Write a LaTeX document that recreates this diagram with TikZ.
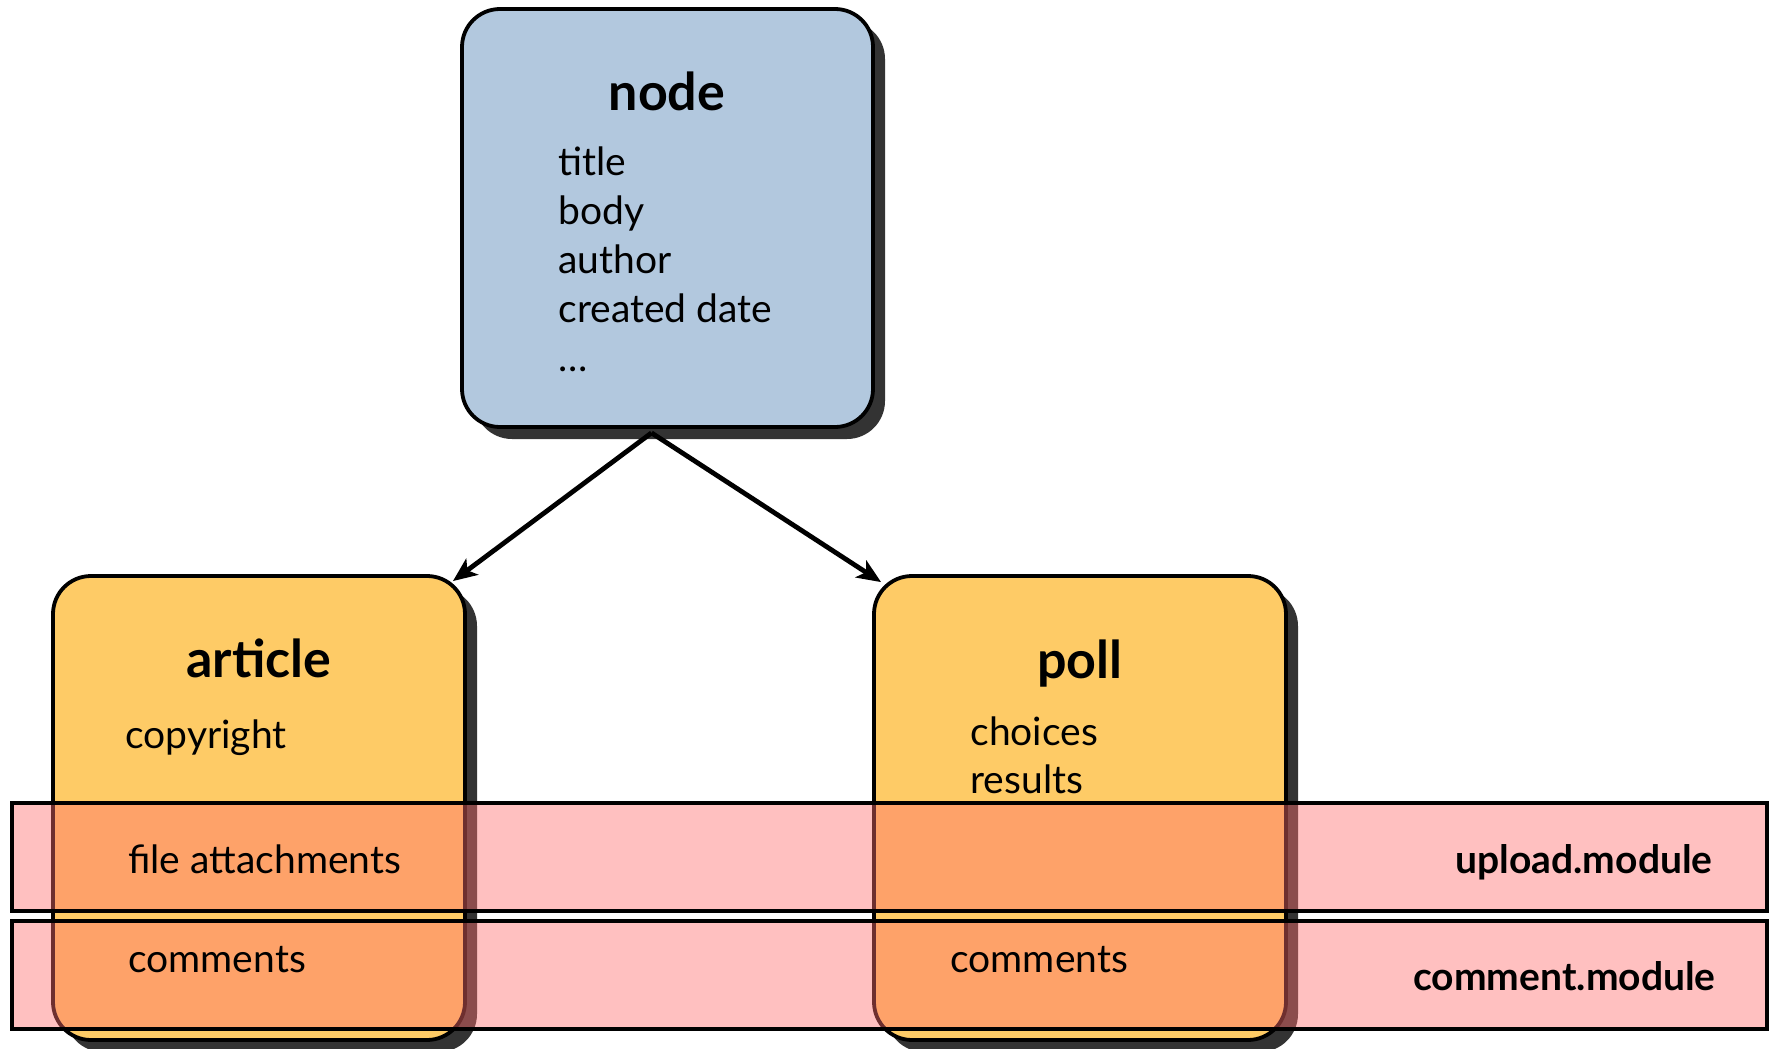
\documentclass[tikz,border=0pt]{standalone}
\usepackage{fontspec}
\setmainfont{Lato}
\usetikzlibrary{calc}
\usetikzlibrary{arrows.meta}
\usetikzlibrary{shadows}

\definecolor{nodeblue}{RGB}{178,200,222}
\definecolor{typeyellow}{RGB}{254,203,102}
\definecolor{modulepink}{RGB}{255,109,109}

\tikzset{
 entity/.style={draw=black, line width=1.9pt, rounded corners=19pt,
   drop shadow={shadow xshift=6pt, shadow yshift=-6pt, fill=black!80, opacity=1}},
 module/.style={draw=black, line width=1.8pt, fill=modulepink, fill opacity=.43,
   minimum width=877.5pt, minimum height=54pt},
 ename/.style={font=\fontsize{26}{30}\selectfont\bfseries, anchor=base, inner sep=0},
 field/.style={font=\fontsize{19.5}{24}\selectfont, anchor=base west, inner sep=0},
 mname/.style={font=\fontsize{19.5}{24}\selectfont\bfseries, anchor=base east, inner sep=0},
 link/.style={line width=2.4pt, ->, >={Stealth[length=12pt,width=10pt,inset=3pt]}}
}

\begin{document}
\begin{tikzpicture}[x=0.5pt, y=-0.5pt]
\useasboundingbox (0,0) rectangle (1769,1049);
% content types
\node[entity, fill=nodeblue, minimum width=205.5pt, minimum height=209pt] (nodebox) at (667.5,218) {};
\node[entity, fill=typeyellow, minimum width=206pt, minimum height=232pt] (article) at (259,808) {};
\node[entity, fill=typeyellow, minimum width=206pt, minimum height=232pt] (poll) at (1080,808) {};
\draw[link] ([xshift=-8pt,yshift=-2pt]nodebox.south) -- ([xshift=-7pt,yshift=-3.5pt]article.north east);
\draw[link] ([xshift=-8pt,yshift=-2pt]nodebox.south) -- ([xshift=4.5pt,yshift=-4pt]poll.north west);
% modules
\node[module] (upload) at (889.5,857) {};
\node[module] (comment) at (889.5,975) {};
% texts
\node[ename] (nodebox-t) at (667,110) {node};
\foreach \f [count=\i from 0] in {title, body, author, created date, \ldots}
 \node[field] (nodebox-f\i) at (558,175+49*\i) {\f};
\node[ename] (article-t) at (259,677) {article};
\node[field] (article-f0) at (125,748) {copyright};
\node[field] (article-f1) at (128,873) {file attachments};
\node[field] (article-f2) at (128,972) {comments};
\node[ename] (poll-t) at (1080,678) {poll};
\node[field] (poll-f0) at (970,745) {choices};
\node[field] (poll-f1) at (970,793) {results};
\node[field] (poll-f2) at (950,972) {comments};
\node[mname] (upload-t) at (1713,873) {upload.module};
\node[mname] (comment-t) at (1716,990) {comment.module};
\end{tikzpicture}
\end{document}
